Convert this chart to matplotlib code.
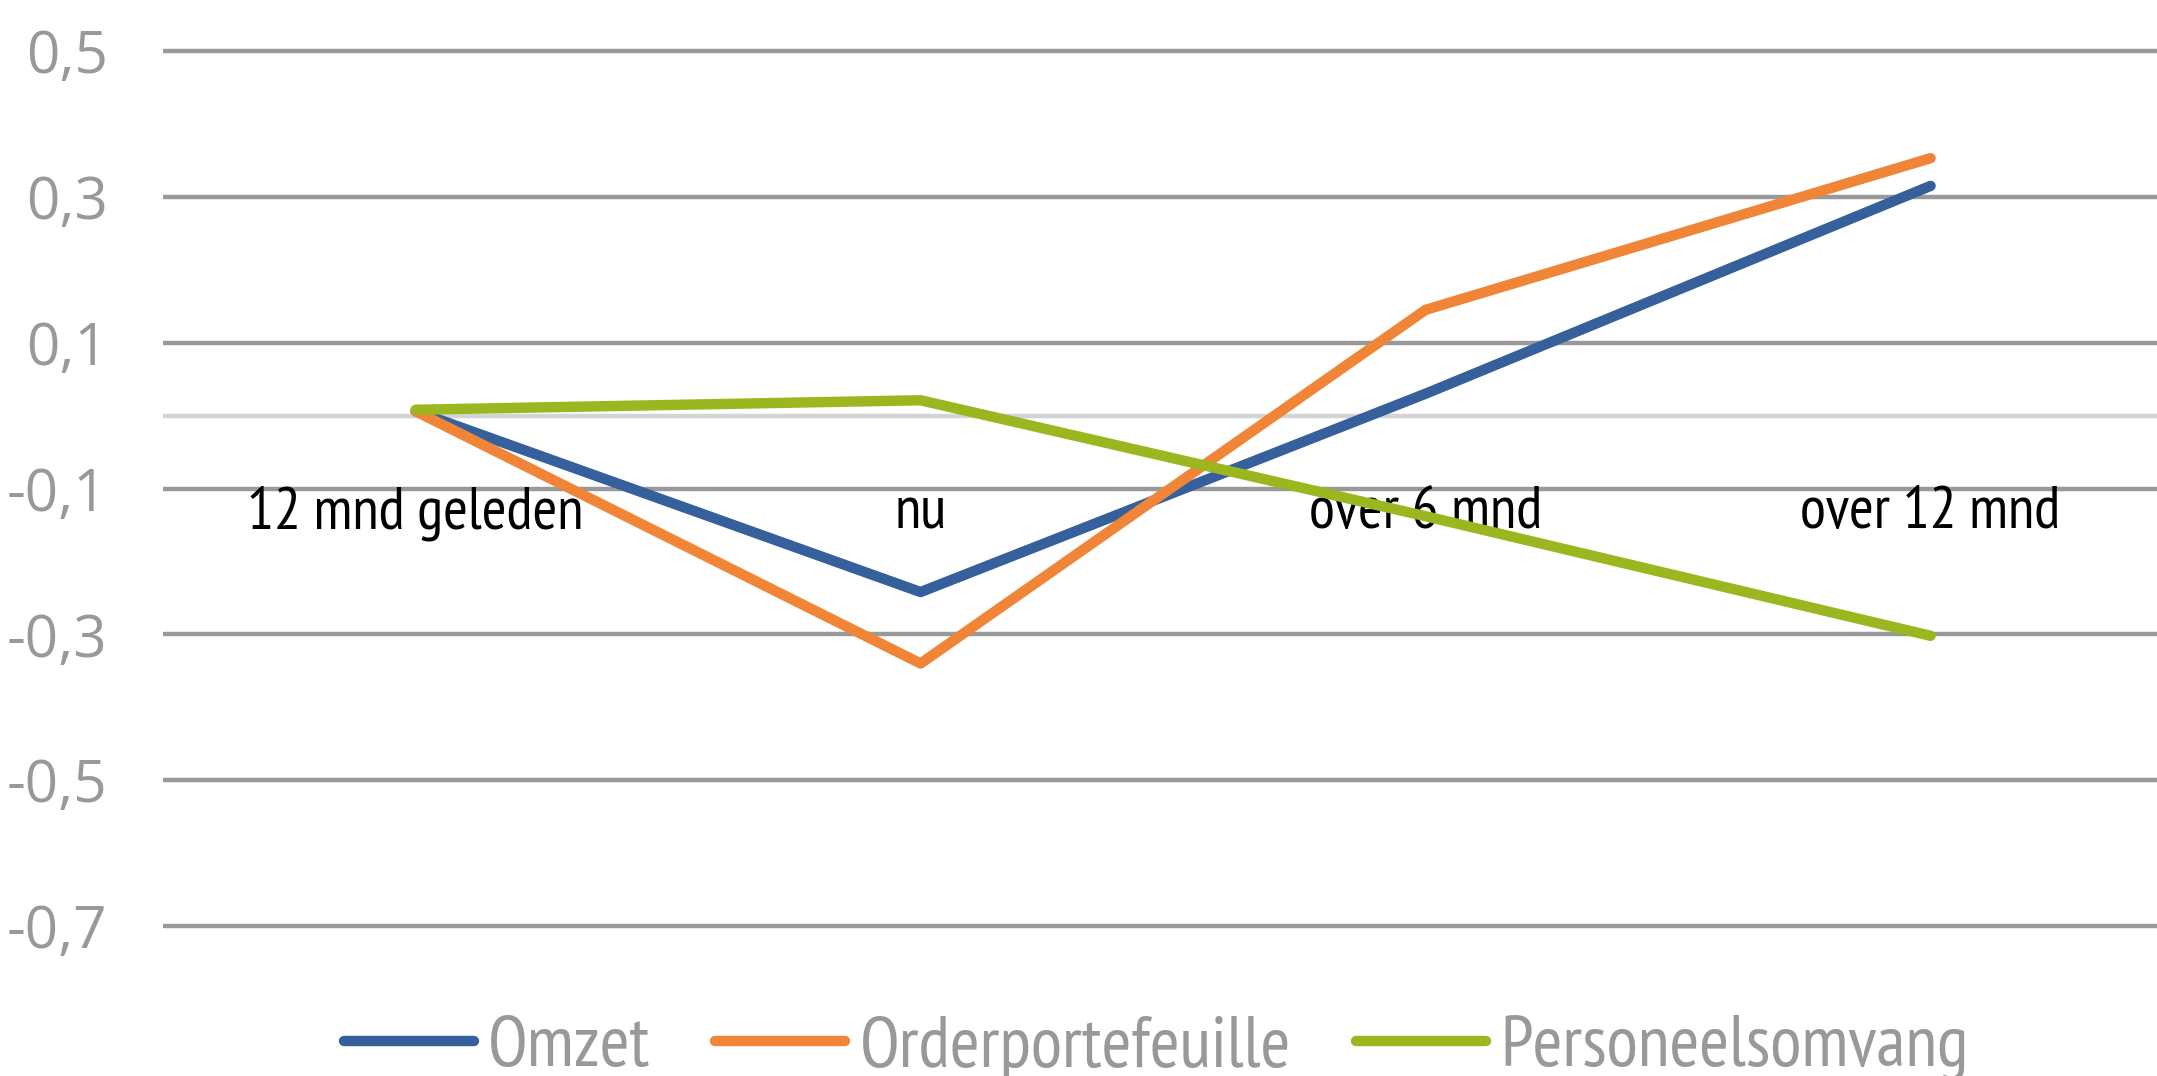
import matplotlib
matplotlib.use("Agg")
import matplotlib.pyplot as plt

categories = ["12 mnd geleden", "nu", "over 6 mnd", "over 12 mnd"]
omzet = [0.006, -0.242, 0.03, 0.315]
orderportefeuille = [0.006, -0.34, 0.145, 0.353]
personeelsomvang = [0.008, 0.021, -0.138, -0.302]

yticks = [0.5, 0.3, 0.1, -0.1, -0.3, -0.5, -0.7]
ytick_labels = ["0,5", "0,3", "0,1", "-0,1", "-0,3", "-0,5", "-0,7"]

narrow = ["PT Sans Narrow", "DejaVu Sans"]

fig = plt.figure(figsize=(21.57, 10.76), dpi=100)
ax = fig.add_axes([0.0756, 0.1055, 0.9365, 0.881])

# gridlines
for y in yticks:
    ax.axhline(y, color="#999999", lw=3.2, zorder=1)
ax.axhline(0, color="#d4d4d4", lw=3.2, zorder=1)

x = list(range(len(categories)))
ax.plot(x, omzet, color="#35609C", lw=7.5, solid_capstyle="round", label="Omzet", zorder=3)
ax.plot(x, orderportefeuille, color="#F08537", lw=7.5, solid_capstyle="round", label="Orderportefeuille", zorder=3)
ax.plot(x, personeelsomvang, color="#9BB720", lw=7.5, solid_capstyle="round", label="Personeelsomvang", zorder=3)

# category labels sit just under the -0,1 line
for i, c in enumerate(categories):
    ax.text(i, -0.134, c, ha="center", va="center", fontsize=43,
            family=narrow, color="black", zorder=2)

ax.set_xlim(-0.5, 3.5)
ax.set_ylim(-0.75, 0.55)
ax.set_xticks([])
ax.set_yticks(yticks)
ax.set_yticklabels(ytick_labels, fontsize=42, color="#999999", family=["Open Sans", "DejaVu Sans"])
ax.tick_params(axis="y", length=0, pad=40)
for s in ax.spines.values():
    s.set_visible(False)

leg = fig.legend(loc="center", bbox_to_anchor=(0.536, 0.026), ncol=3, frameon=False,
                 handlelength=1.8, handletextpad=0.2, columnspacing=0.9,
                 prop={"family": narrow, "size": 52})
for t in leg.get_texts():
    t.set_color("#999999")

fig.savefig("out.png", dpi=100)
